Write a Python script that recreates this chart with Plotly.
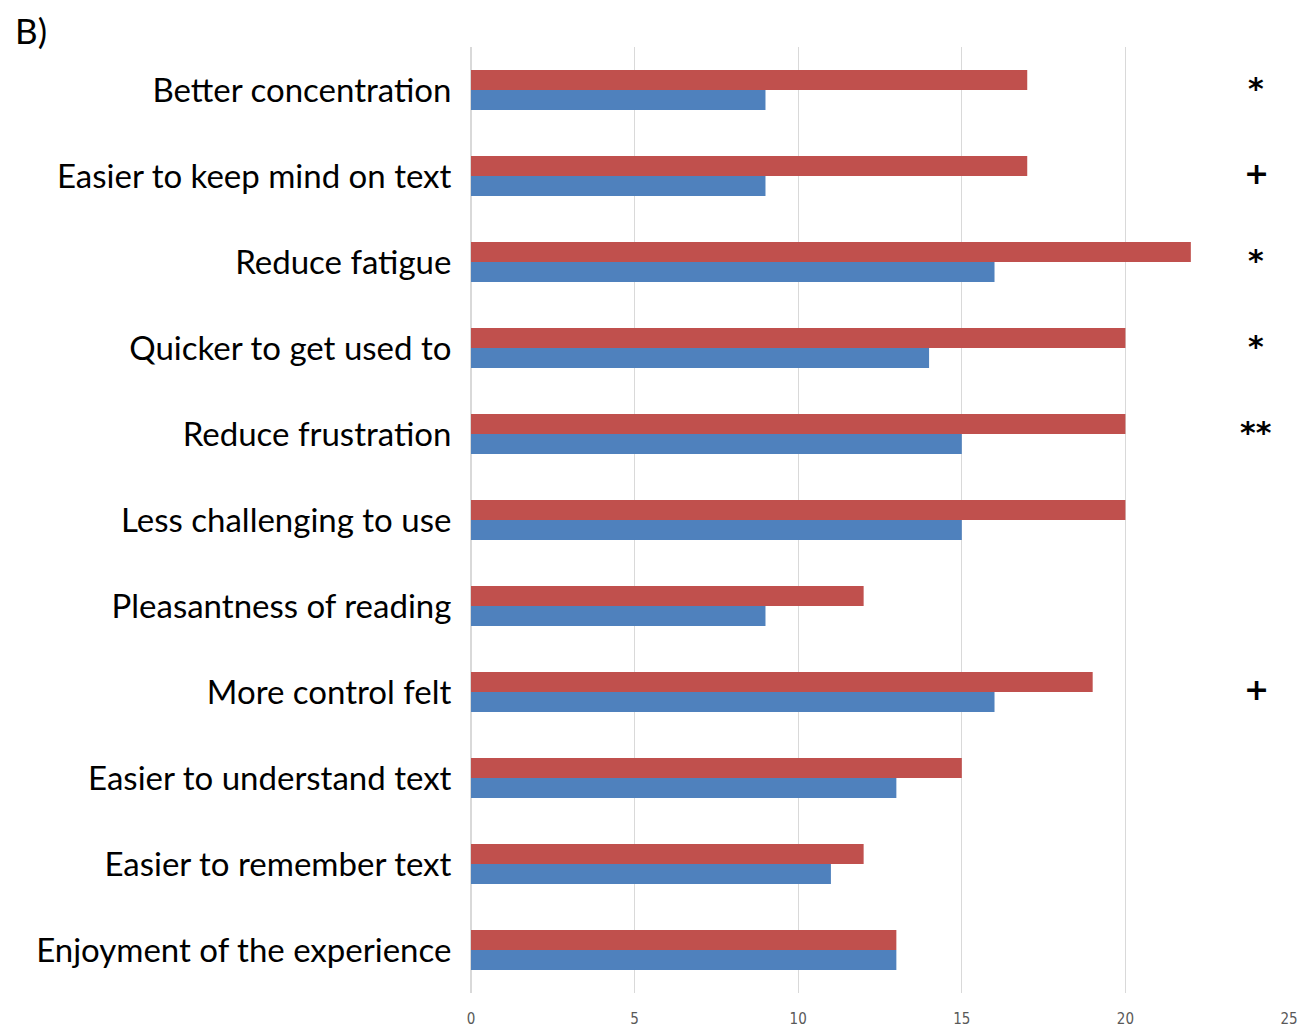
import plotly.graph_objects as go

categories = [
    "Better concentration",
    "Easier to keep mind on text",
    "Reduce fatigue",
    "Quicker to get used to",
    "Reduce frustration",
    "Less challenging to use",
    "Pleasantness of reading",
    "More control felt",
    "Easier to understand text",
    "Easier to remember text",
    "Enjoyment of the experience",
]
red_values = [17, 17, 22, 20, 20, 20, 12, 19, 15, 12, 13]
blue_values = [9, 9, 16, 14, 15, 15, 9, 16, 13, 11, 13]
significance = ["*", "+", "*", "*", "**", "", "", "+", "", "", ""]
x_ticks = [0, 5, 10, 15, 20, 25]

fig = go.Figure()
fig.add_trace(go.Bar(y=categories, x=red_values, orientation="h",
                     marker=dict(color="#C0504D", line=dict(width=0)), name="red"))
fig.add_trace(go.Bar(y=categories, x=blue_values, orientation="h",
                     marker=dict(color="#4F81BD", line=dict(width=0)), name="blue"))

for cat, sig in zip(categories, significance):
    if sig:
        fig.add_annotation(x=24.0, y=cat, xref="x", yref="y", text="<b>" + sig + "</b>",
                           showarrow=False, yshift=2 if sig != "+" else 3,
                           font=dict(size=30, color="black", family="DejaVu Sans"))

fig.add_annotation(x=-0.559, y=1.041, xref="paper", yref="paper", xanchor="left", yanchor="top",
                   text="B)", showarrow=False, borderpad=0,
                   font=dict(size=35, color="black", family="Lato"))

fig.update_layout(
    width=1308, height=1022,
    margin=dict(l=463, r=27, t=39, b=37),
    paper_bgcolor="white", plot_bgcolor="white",
    barmode="group", bargap=0.535, bargroupgap=0,
    showlegend=False,
    font=dict(family="Lato", color="black"),
    xaxis=dict(range=[0, 25], tickvals=x_ticks, showgrid=True, gridcolor="#D9D9D9",
               zeroline=True, zerolinecolor="#D9D9D9", showline=False, automargin=False,
               tickfont=dict(size=15, color="#595959",
                             family="DejaVu Sans Condensed, Liberation Sans Narrow, sans-serif"),
               ticks="outside", ticklen=12, tickcolor="rgba(0,0,0,0)"),
    yaxis=dict(autorange="reversed", showgrid=False, showline=False, automargin=False,
               tickfont=dict(size=33, color="black", family="Lato"),
               ticks="outside", ticklen=12, tickcolor="rgba(0,0,0,0)"),
)

fig.write_html("out.html")
